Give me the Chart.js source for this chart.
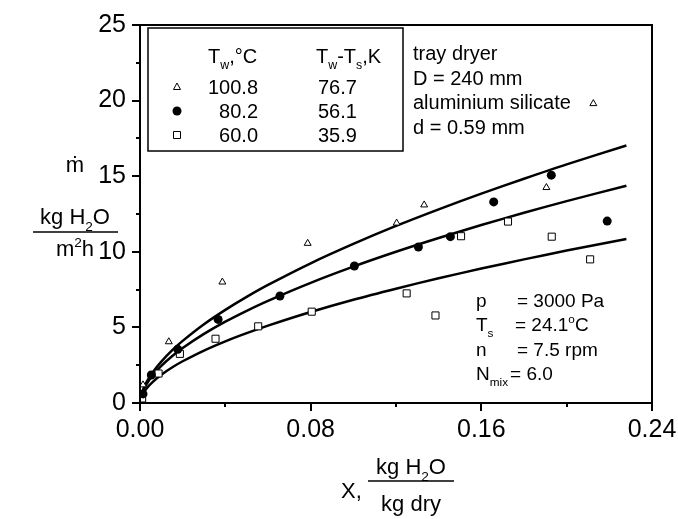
<!DOCTYPE html>
<html>
<head>
<meta charset="utf-8">
<script src="https://cdn.jsdelivr.net/npm/chart.js@4/dist/chart.umd.min.js"></script>
<style>
  html, body { margin: 0; padding: 0; background: #fff; }
  #wrap { width: 678px; height: 519px; }
</style>
</head>
<body>
<div id="wrap"><canvas id="chart" width="678" height="519"></canvas></div>
<script>
// données
const xTriangle = [0.0014, 0.0135, 0.0386, 0.0786, 0.1203, 0.1332, 0.1905, 0.2125];
const yTriangle = [1.2, 4.05, 8.0, 10.56, 11.9, 13.1, 14.25, 19.8];
const xCircle = [0.0014, 0.0053, 0.0177, 0.0366, 0.0656, 0.1005, 0.1305, 0.1455, 0.1658, 0.1928, 0.2190];
const yCircle = [0.6, 1.85, 3.55, 5.53, 7.08, 9.06, 10.32, 11.0, 13.3, 15.07, 12.03];
const xSquare = [0.0010, 0.0087, 0.0187, 0.0354, 0.0554, 0.0805, 0.1250, 0.1385, 0.1505, 0.1725, 0.1930, 0.2110];
const ySquare = [0.3, 1.95, 3.25, 4.25, 5.07, 6.04, 7.25, 5.79, 11.03, 12.0, 11.0, 9.5];

// courbes d'ajustement (lues le long des traits)
const xFit = [0, 0.001, 0.003, 0.006, 0.01, 0.015, 0.02, 0.03, 0.04, 0.05, 0.06, 0.08, 0.1, 0.12, 0.14, 0.16, 0.18, 0.2, 0.228];
const yFitTop = [0, 0.71, 1.36, 2.04, 2.74, 3.48, 4.11, 5.21, 6.16, 7.02, 7.81, 9.24, 10.52, 11.71, 12.81, 13.85, 14.83, 15.78, 17.03];
const yFitMid = [0, 0.67, 1.24, 1.84, 2.46, 3.09, 3.64, 4.57, 5.38, 6.10, 6.76, 7.95, 9.02, 10.0, 10.91, 11.77, 12.58, 13.35, 14.37];
const yFitLow = [0, 0.51, 0.95, 1.40, 1.87, 2.35, 2.76, 3.47, 4.08, 4.62, 5.12, 6.02, 6.83, 7.56, 8.25, 8.89, 9.50, 10.08, 10.85];

const xLabels = ['0.00', '0.08', '0.16', '0.24'];
const yLabels = ['0', '5', '10', '15', '20', '25'];

const legendTw = ['100.8', '80.2', '60.0'];
const legendDT = ['76.7', '56.1', '35.9'];

const FONT = '"Liberation Sans", Arial, sans-serif';
Chart.defaults.font.family = FONT;
Chart.defaults.color = '#000';

const pts = (xs, ys) => xs.map((x, i) => ({ x: x, y: ys[i] }));

// texte avec indices / exposants
function drawRuns(ctx, x, y, parts, size, align) {
  const small = size * 0.62;
  let w = 0;
  parts.forEach(p => {
    ctx.font = (p[1] ? small : size) + 'px ' + FONT;
    w += ctx.measureText(p[0]).width;
  });
  let cx = align === 'center' ? x - w / 2 : (align === 'right' ? x - w : x);
  ctx.textAlign = 'left';
  ctx.textBaseline = 'alphabetic';
  parts.forEach(p => {
    ctx.font = (p[1] ? small : size) + 'px ' + FONT;
    let dy = 0;
    if (p[1] === 'sub') dy = size * 0.3;
    if (p[1] === 'sup') dy = -size * 0.4;
    ctx.fillText(p[0], cx, y + dy);
    cx += ctx.measureText(p[0]).width;
  });
  return w;
}

function marker(ctx, kind, x, y) {
  ctx.save();
  ctx.lineWidth = 1;
  ctx.strokeStyle = '#000';
  ctx.fillStyle = '#fff';
  ctx.beginPath();
  if (kind === 'tri') {
    ctx.moveTo(x, y - 4);
    ctx.lineTo(x + 3.5, y + 2.5);
    ctx.lineTo(x - 3.5, y + 2.5);
    ctx.closePath();
    ctx.fill(); ctx.stroke();
  } else if (kind === 'dot') {
    ctx.fillStyle = '#000';
    ctx.arc(x, y, 4.5, 0, Math.PI * 2);
    ctx.fill();
  } else {
    ctx.rect(x - 3.5, y - 3.5, 7, 7);
    ctx.fill(); ctx.stroke();
  }
  ctx.restore();
}

const isMajor = (v, step) => Math.abs(v - Math.round(v / step) * step) < 1e-6;

const annotations = {
  id: 'annotations',
  afterDraw(chart) {
    const ctx = chart.ctx;
    const a = chart.chartArea;
    const sx = chart.scales.x, sy = chart.scales.y;
    ctx.save();
    // cadre
    ctx.strokeStyle = '#000';
    ctx.lineWidth = 2;
    ctx.strokeRect(a.left, a.top, a.right - a.left, a.bottom - a.top);

    // petites graduations
    ctx.lineWidth = 2;
    ctx.beginPath();
    [0.04, 0.12, 0.2].forEach(v => {
      const px = Math.round(sx.getPixelForValue(v));
      ctx.moveTo(px, a.bottom); ctx.lineTo(px, a.bottom + 4);
    });
    [2.5, 7.5, 12.5, 17.5, 22.5].forEach(v => {
      const py = Math.round(sy.getPixelForValue(v));
      ctx.moveTo(a.left, py); ctx.lineTo(a.left - 4, py);
    });
    ctx.stroke();

    // boîte de légende
    ctx.lineWidth = 1.5;
    ctx.fillStyle = '#fff';
    ctx.fillRect(148, 28, 255, 123);
    ctx.strokeRect(148, 28, 255, 123);
    ctx.fillStyle = '#000';
    drawRuns(ctx, 208, 63, [['T', ''], ['w', 'sub'], [',°C', '']], 20, 'left');
    drawRuns(ctx, 316, 63, [['T', ''], ['w', 'sub'], ['-T', ''], ['s', 'sub'], [',K', '']], 20, 'left');
    const kinds = ['tri', 'dot', 'sq'];
    const rowY = [87, 111, 135];
    rowY.forEach((ry, i) => {
      marker(ctx, kinds[i], 177, ry);
      drawRuns(ctx, 258, ry + 7, [[legendTw[i], '']], 20, 'right');
      drawRuns(ctx, 318, ry + 7, [[legendDT[i], '']], 20, 'left');
    });

    // texte en haut à droite
    ['tray dryer', 'D = 240 mm', 'aluminium silicate', 'd = 0.59 mm'].forEach((t, i) => {
      drawRuns(ctx, 413, 60 + i * 24.5, [[t, '']], 20, 'left');
    });

    // conditions
    drawRuns(ctx, 476, 307, [['p', '']], 19, 'left');
    drawRuns(ctx, 517, 307, [['= 3000 Pa', '']], 19, 'left');
    drawRuns(ctx, 476, 331, [['T', ''], ['s', 'sub']], 19, 'left');
    drawRuns(ctx, 515, 331, [['= 24.1', ''], ['o', 'sup'], ['C', '']], 19, 'left');
    drawRuns(ctx, 476, 356, [['n', '']], 19, 'left');
    drawRuns(ctx, 517, 356, [['= 7.5 rpm', '']], 19, 'left');
    const wN = drawRuns(ctx, 476, 380, [['N', ''], ['mix', 'sub']], 19, 'left');
    drawRuns(ctx, 476 + wN + 2, 380, [['= 6.0', '']], 19, 'left');

    // titre axe y
    drawRuns(ctx, 75, 172, [['ṁ', '']], 22, 'center');
    drawRuns(ctx, 75, 224, [['kg H', ''], ['2', 'sub'], ['O', '']], 22, 'center');
    ctx.lineWidth = 1.5;
    ctx.beginPath(); ctx.moveTo(33, 232); ctx.lineTo(118, 232); ctx.stroke();
    drawRuns(ctx, 75, 256, [['m', ''], ['2', 'sup'], ['h', '']], 22, 'center');

    // titre axe x
    drawRuns(ctx, 341, 498, [['X,', '']], 22, 'left');
    drawRuns(ctx, 411, 474, [['kg H', ''], ['2', 'sub'], ['O', '']], 22, 'center');
    ctx.beginPath(); ctx.moveTo(368, 481); ctx.lineTo(454, 481); ctx.stroke();
    drawRuns(ctx, 411, 511, [['kg dry', '']], 22, 'center');
    ctx.restore();
  }
};

const fitStyle = { type: 'line', borderColor: '#000', borderWidth: 2.5, pointRadius: 0, fill: false, tension: 0.3, order: 2 };

new Chart(document.getElementById('chart'), {
  type: 'scatter',
  data: {
    datasets: [
      Object.assign({ data: pts(xFit, yFitTop) }, fitStyle),
      Object.assign({ data: pts(xFit, yFitMid) }, fitStyle),
      Object.assign({ data: pts(xFit, yFitLow) }, fitStyle),
      { data: pts(xTriangle, yTriangle), pointStyle: 'triangle', pointRadius: 4, borderColor: '#000', backgroundColor: '#fff', borderWidth: 1, order: 1 },
      { data: pts(xCircle, yCircle), pointStyle: 'circle', pointRadius: 4.5, borderColor: '#000', backgroundColor: '#000', borderWidth: 0, order: 1 },
      { data: pts(xSquare, ySquare), pointStyle: 'rect', pointRadius: 5, borderColor: '#000', backgroundColor: '#fff', borderWidth: 1, order: 1 }
    ]
  },
  options: {
    responsive: false,
    animation: false,
    layout: { padding: { left: 0, right: 26, top: 25, bottom: 0 } },
    plugins: { legend: { display: false }, tooltip: { enabled: false } },
    scales: {
      x: {
        type: 'linear', min: 0, max: 0.24,
        afterFit: s => { s.height = 116; s.paddingRight = 0; s.paddingLeft = 0; },
        grid: {
          drawOnChartArea: false, drawTicks: true, tickLength: 8, lineWidth: 2,
          tickColor: c => (c.tick && isMajor(c.tick.value, 0.08)) ? '#000' : 'rgba(0,0,0,0)'
        },
        border: { display: true, color: '#000', width: 2 },
        ticks: {
          stepSize: 0.04, padding: 4, color: '#000', font: { size: 25 }, maxRotation: 0, autoSkip: false,
          callback: (v) => isMajor(v, 0.08) ? xLabels[Math.round(v / 0.08)] : ''
        }
      },
      y: {
        type: 'linear', min: 0, max: 25,
        afterFit: s => { s.width = 140; },
        grid: {
          drawOnChartArea: false, drawTicks: true, tickLength: 8, lineWidth: 2,
          tickColor: c => (c.tick && isMajor(c.tick.value, 5)) ? '#000' : 'rgba(0,0,0,0)'
        },
        border: { display: true, color: '#000', width: 2 },
        ticks: {
          stepSize: 2.5, padding: 6, color: '#000', font: { size: 25 }, autoSkip: false,
          callback: (v) => isMajor(v, 5) ? yLabels[Math.round(v / 5)] : ''
        }
      }
    }
  },
  plugins: [annotations]
});
</script>
</body>
</html>
